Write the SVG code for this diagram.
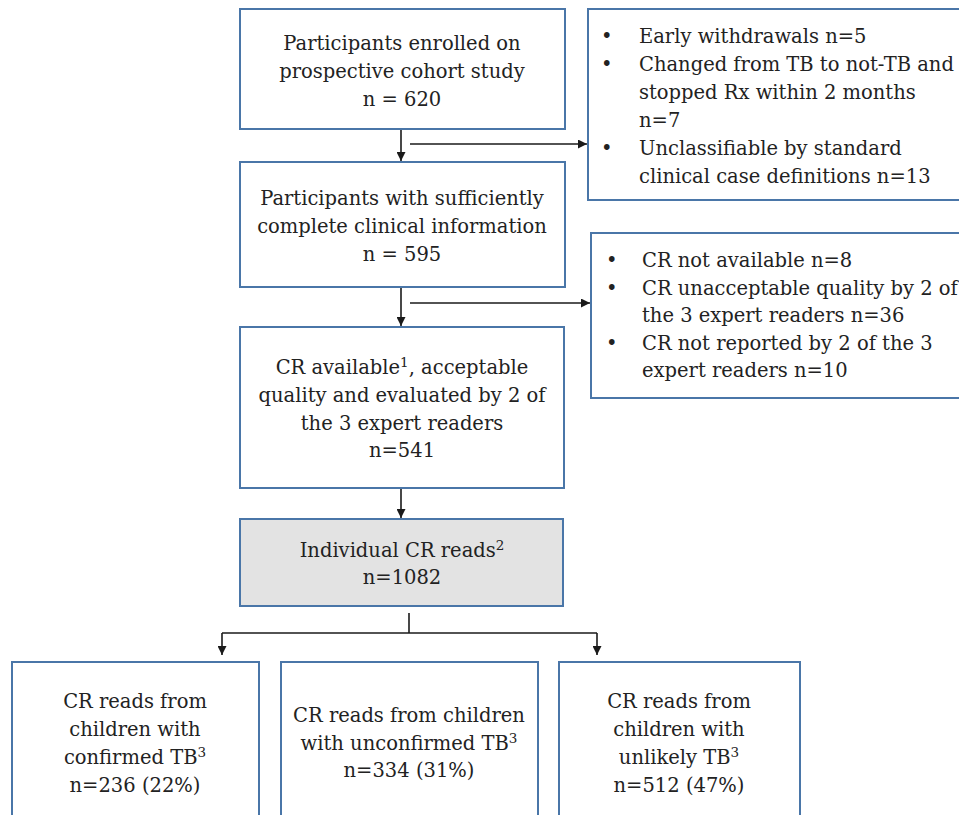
<svg xmlns="http://www.w3.org/2000/svg" width="959" height="815" viewBox="0 0 959 815">
<style>
.box{fill:#ffffff;stroke:#4a76a8;stroke-width:2}
.gray{fill:#e3e3e3;stroke:#4a76a8;stroke-width:2}
text{font-family:"DejaVu Serif","Liberation Serif",serif;font-size:19.5px;fill:#222222}
.c{text-anchor:middle}
.sup{font-size:13.5px}
.conn{stroke:#1a1a1a;stroke-width:1.6;fill:none}
</style>
<defs>
<marker id="arr" viewBox="0 0 10 10" refX="10" refY="5" markerWidth="9" markerHeight="9" markerUnits="userSpaceOnUse" orient="auto">
<path d="M0,0 L10,5 L0,10 z" fill="#1a1a1a"/>
</marker>
</defs>
<g id="connectors">
<line class="conn" x1="401" y1="129" x2="401" y2="161" marker-end="url(#arr)"/>
<line class="conn" x1="410" y1="144" x2="587" y2="144" marker-end="url(#arr)"/>
<line class="conn" x1="401" y1="287" x2="401" y2="326" marker-end="url(#arr)"/>
<line class="conn" x1="410" y1="303" x2="590" y2="303" marker-end="url(#arr)"/>
<line class="conn" x1="401" y1="488" x2="401" y2="518" marker-end="url(#arr)"/>
<line class="conn" x1="409" y1="613" x2="409" y2="633"/>
<line class="conn" x1="222" y1="633" x2="597" y2="633"/>
<line class="conn" x1="222" y1="633" x2="222" y2="655" marker-end="url(#arr)"/>
<line class="conn" x1="597" y1="633" x2="597" y2="655" marker-end="url(#arr)"/>
</g>
<g id="enrolled">
<rect class="box" x="240" y="9" width="325" height="120"/>
<text class="c" x="402" y="50">Participants enrolled on</text>
<text class="c" x="402" y="78">prospective cohort study</text>
<text class="c" x="402" y="106">n = 620</text>
</g>
<g id="exclusion1">
<rect class="box" x="588" y="9" width="380" height="191"/>
<text x="601" y="43">•</text><text x="639" y="43">Early withdrawals n=5</text>
<text x="601" y="71">•</text><text x="639" y="71">Changed from TB to not-TB and</text>
<text x="639" y="99">stopped Rx within 2 months</text>
<text x="639" y="127">n=7</text>
<text x="601" y="155">•</text><text x="639" y="155">Unclassifiable by standard</text>
<text x="639" y="183">clinical case definitions n=13</text>
</g>
<g id="complete">
<rect class="box" x="240" y="162" width="325" height="125"/>
<text class="c" x="402" y="205">Participants with sufficiently</text>
<text class="c" x="402" y="233">complete clinical information</text>
<text class="c" x="402" y="261">n = 595</text>
</g>
<g id="exclusion2">
<rect class="box" x="591" y="233" width="380" height="165"/>
<text x="606" y="267">•</text><text x="642" y="267">CR not available n=8</text>
<text x="606" y="295">•</text><text x="642" y="295">CR unacceptable quality by 2 of</text>
<text x="642" y="322">the 3 expert readers n=36</text>
<text x="606" y="350">•</text><text x="642" y="350">CR not reported by 2 of the 3</text>
<text x="642" y="377">expert readers n=10</text>
</g>
<g id="cr-available">
<rect class="box" x="240" y="327" width="324" height="161"/>
<text class="c" x="402" y="374">CR available<tspan class="sup" dy="-7">1</tspan><tspan dy="7">, acceptable</tspan></text>
<text class="c" x="402" y="402">quality and evaluated by 2 of</text>
<text class="c" x="402" y="430">the 3 expert readers</text>
<text class="c" x="402" y="457">n=541</text>
</g>
<g id="reads">
<rect class="gray" x="240" y="519" width="323" height="87"/>
<text class="c" x="402" y="557">Individual CR reads<tspan class="sup" dy="-7">2</tspan></text>
<text class="c" x="402" y="584">n=1082</text>
</g>
<g id="confirmed">
<rect class="box" x="12" y="662" width="247" height="170"/>
<text class="c" x="135" y="708">CR reads from</text>
<text class="c" x="135" y="736">children with</text>
<text class="c" x="135" y="764">confirmed TB<tspan class="sup" dy="-7">3</tspan></text>
<text class="c" x="135" y="792">n=236 (22%)</text>
</g>
<g id="unconfirmed">
<rect class="box" x="281" y="662" width="257" height="170"/>
<text class="c" x="409" y="722">CR reads from children</text>
<text class="c" x="409" y="750">with unconfirmed TB<tspan class="sup" dy="-7">3</tspan></text>
<text class="c" x="409" y="777">n=334 (31%)</text>
</g>
<g id="unlikely">
<rect class="box" x="559" y="662" width="241" height="170"/>
<text class="c" x="679" y="708">CR reads from</text>
<text class="c" x="679" y="736">children with</text>
<text class="c" x="679" y="764">unlikely TB<tspan class="sup" dy="-7">3</tspan></text>
<text class="c" x="679" y="792">n=512 (47%)</text>
</g>
</svg>
